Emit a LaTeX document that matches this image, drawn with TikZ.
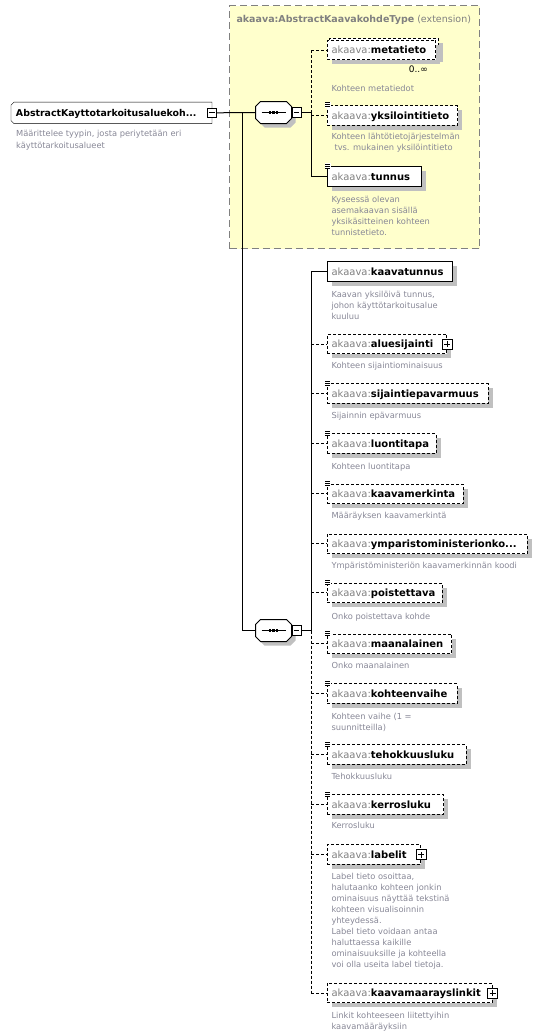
\documentclass[tikz,border=0pt]{standalone}
\usepackage{fontspec}
\setmainfont{DejaVu Sans}
\usetikzlibrary{calc,backgrounds,shadows}
\definecolor{descgray}{RGB}{135,135,150}
\definecolor{prefgray}{RGB}{128,128,128}
\definecolor{extfill}{RGB}{255,255,204}
\definecolor{shadowgray}{RGB}{192,192,192}
\tikzset{
  shad/.style={drop shadow={shadow xshift=4.5pt,shadow yshift=-4.5pt,fill=shadowgray,opacity=1}},
  elbox/.style={draw, fill=white, line width=1pt, anchor=west, inner xsep=4.5pt, inner ysep=0pt,
    minimum height=19.5pt, text height=9.6pt, text depth=2pt, align=left,
    font=\fontsize{10}{12}\selectfont, shad},
  optbox/.style={elbox, dash pattern=on 3pt off 2pt},
  dashline/.style={dash pattern=on 3pt off 2pt},
  desc/.style={anchor=base west, inner sep=0pt, text=descgray, font=\fontsize{8.3}{11}\selectfont},
  smallbox/.style={draw, fill=white, line width=0.8pt, inner sep=0pt, solid},
  minusbox/.style={smallbox, minimum size=9.3pt,
    path picture={\draw[line width=0.8pt] ([xshift=2pt]path picture bounding box.west) -- ([xshift=-2pt]path picture bounding box.east);}},
  plusbox/.style={smallbox, minimum size=10pt,
    path picture={\draw[line width=0.8pt] ([xshift=2pt]path picture bounding box.west) -- ([xshift=-2pt]path picture bounding box.east);
      \draw[line width=0.8pt] ([yshift=2pt]path picture bounding box.south) -- ([yshift=-2pt]path picture bounding box.north);}},
  seqbox/.style={rectangle, draw=none, minimum width=35pt, minimum height=21pt, inner sep=0pt},
  extbox/.style={draw=prefgray, fill=extfill, line width=1pt, dash pattern=on 7pt off 4pt, anchor=north west,
    minimum width=250pt, minimum height=243pt, inner sep=0pt}
}
\newcommand\elnode[5]{\node[#2, text width=#3pt] (#1) at (326.5,#4) {{\color{prefgray}akaava:}\textbf{#5}};}
\newcommand\descnode[3]{\node[desc] (#1) at (331,#2) {\parbox[t]{200pt}{\raggedright #3}};}
\newcommand\simpleicon[1]{%
  \fill[white] ([shift={(-2,-3.5)}]#1.north west) rectangle ([shift={(4.5,2.5)}]#1.north west);
  \draw[line width=0.8pt] ([shift={(-1.5,-2.5)}]#1.north west) -- ++(5,0);
  \draw[line width=0.8pt] ([shift={(-1.5,-0.5)}]#1.north west) -- ++(5,0);
  \draw[line width=0.8pt] ([shift={(-1.5,1.5)}]#1.north west) -- ++(5,0);}
\newcommand\octpath[3]{([shift={(#2+5,#3)}]#1.north west) -- ([shift={(#2-5,#3)}]#1.north east) -- ([shift={(#2,#3+5)}]#1.north east) -- ([shift={(#2,#3-5)}]#1.south east) -- ([shift={(#2-5,#3)}]#1.south east) -- ([shift={(#2+5,#3)}]#1.south west) -- ([shift={(#2,#3-5)}]#1.south west) -- ([shift={(#2,#3+5)}]#1.north west) -- cycle}
\newcommand\octa[1]{%
  \fill[shadowgray] \octpath{#1}{4}{4};
  \draw[fill=white] \octpath{#1}{0}{0};
  \draw ([xshift=6pt]#1.west) -- ([xshift=-6pt]#1.east);
  \foreach \dx in {-3.3,0,3.3} \fill ([xshift=\dx pt]#1.center) +(-1.2,-1.2) rectangle +(1.2,1.2);}
\begin{document}
\begin{tikzpicture}[x=1pt,y=-1pt,line width=1pt]
\useasboundingbox (0,0) rectangle (556,1036);
% extension box
\node[extbox] (ext) at (229.3,5.3) {};
\node[anchor=base west, inner sep=0pt, text=prefgray, font=\fontsize{9.5}{11}\selectfont] (exttitle) at (236,22.5)
  {\textbf{akaava:AbstractKaavakohdeType} (extension)};
% root
\node[rectangle, draw=none, anchor=west, minimum width=200pt, minimum height=20.5pt, inner xsep=4.5pt, inner ysep=0pt,
  text width=191pt, text height=9pt, text depth=2pt, align=left, font=\fontsize{9.4}{11}\selectfont] (root) at (11,112.8)
  {\textbf{AbstractKayttotarkoitusaluekoh...}};
\begin{scope}[on background layer]
\draw[fill=white] ([shift={(0,3)}]root.north west) -- ([shift={(3,0)}]root.north west) -- (root.north east) -- (root.south east) -- ([shift={(3,0)}]root.south west) -- ([shift={(0,-3)}]root.south west) -- cycle;
\end{scope}
\node[minusbox] (rootm) at (root.east) {};
\node[anchor=base west, inner sep=0pt, text=descgray, font=\fontsize{8.3}{12.3}\selectfont] (rootd) at (15.6,136.3)
  {\parbox[t]{200pt}{\raggedright Määrittelee tyypin, josta periytetään eri\\käyttötarkoitusalueet}};
% sequences
\node[seqbox] (s1) at (273.5,112.5) {};
\octa{s1}
\node[minusbox, anchor=west] (s1m) at (s1.east) {};
\node[seqbox] (s2) at (273.5,630.5) {};
\octa{s2}
\node[minusbox, anchor=west] (s2m) at (s2.east) {};
% root connectors
\coordinate (J) at (242.7,112.5);
\draw (rootm.east) -- (s1.west);
\draw (J) |- (s2.west);
% first sequence elements
\node[optbox, text width=99.5pt] (m1b) at (329,48) {};
\elnode{m1}{optbox}{99.5}{50}{metatieto}
\node[anchor=base west, inner sep=0pt, font=\fontsize{9}{11}\selectfont] (m1c) at (408.3,72.5) {0..∞};
\descnode{m1d}{91.3}{Kohteen metatiedot}
\elnode{e2}{optbox}{121.8}{115.5}{yksilointitieto}\simpleicon{e2}
\descnode{e2d}{139.7}{Kohteen lähtötietojärjestelmän\\\hspace*{3pt}tvs. mukainen yksilöintitieto}
\elnode{e3}{elbox}{85.2}{176.7}{tunnus}\simpleicon{e3}
\descnode{e3d}{202.3}{Kyseessä olevan\\asemakaavan sisällä\\yksikäsitteinen kohteen\\tunnistetieto.}
\coordinate (t1) at (311.3,112.5);
\draw (s1m.east) -- (t1);
\draw[dashline] (t1) -- (t1 |- m1.west);
\draw (t1) -- (t1 |- e3.west);
\draw[dashline] (t1 |- m1.west) -- (m1.west);
\draw[dashline] (t1 |- e2.west) -- (e2.west);
\draw (t1 |- e3.west) -- (e3.west);
% second sequence elements
\elnode{e4}{elbox}{116.2}{271.3}{kaavatunnus}
\descnode{e4d}{297.3}{Kaavan yksilöivä tunnus,\\johon käyttötarkoitusalue\\kuuluu}
\elnode{e5}{optbox}{110.5}{344}{aluesijainti}
\node[plusbox] (e5p) at (e5.east) {};
\descnode{e5d}{368.7}{Kohteen sijaintiominaisuus}
\elnode{e6}{optbox}{152.2}{393.7}{sijaintiepavarmuus}\simpleicon{e6}
\descnode{e6d}{418.7}{Sijainnin epävarmuus}
\elnode{e7}{optbox}{100.2}{443.7}{luontitapa}\simpleicon{e7}
\descnode{e7d}{469}{Kohteen luontitapa}
\elnode{e8}{optbox}{127.2}{493.8}{kaavamerkinta}\simpleicon{e8}
\descnode{e8d}{518.7}{Määräyksen kaavamerkintä}
\elnode{e9}{optbox}{191.2}{543.8}{ymparistoministerionko...}
\descnode{e9d}{568.7}{Ympäristöministeriön kaavamerkinnän koodi}
\elnode{e10}{optbox}{106.2}{592.8}{poistettava}\simpleicon{e10}
\descnode{e10d}{619.7}{Onko poistettava kohde}
\elnode{e11}{optbox}{115.5}{643.8}{maanalainen}\simpleicon{e11}
\descnode{e11d}{668.7}{Onko maanalainen}
\elnode{e12}{optbox}{121.2}{693.7}{kohteenvaihe}\simpleicon{e12}
\descnode{e12d}{719}{Kohteen vaihe (1 =\\suunnitteilla)}
\elnode{e13}{optbox}{130.2}{754.7}{tehokkuusluku}\simpleicon{e13}
\descnode{e13d}{779.7}{Tehokkuusluku}
\elnode{e14}{optbox}{107.8}{804.7}{kerrosluku}\simpleicon{e14}
\descnode{e14d}{828.7}{Kerrosluku}
\elnode{e15}{optbox}{84.5}{854.7}{labelit}
\node[plusbox] (e15p) at (e15.east) {};
\descnode{e15d}{879.7}{Label tieto osoittaa,\\halutaanko kohteen jonkin\\ominaisuus näyttää tekstinä\\kohteen visualisoinnin\\yhteydessä.\\Label tieto voidaan antaa\\haluttaessa kaikille\\ominaisuuksille ja kohteella\\voi olla useita label tietoja.}
\elnode{e16}{optbox}{156.2}{993}{kaavamaarayslinkit}
\node[plusbox] (e16p) at (e16.east) {};
\descnode{e16d}{1018}{Linkit kohteeseen liitettyihin\\kaavamääräyksiin}
\coordinate (t2) at (311.3,630.5);
\draw (s2m.east) -- (t2);
\draw (t2) -- (t2 |- e4.west);
\draw[dashline] (t2) -- (t2 |- e16.west);
\draw (t2 |- e4.west) -- (e4.west);
\foreach \e in {e5,e6,e7,e8,e9,e10,e11,e12,e13,e14,e15,e16}
  \draw[dashline] (t2 |- \e.west) -- (\e.west);
\end{tikzpicture}
\end{document}
